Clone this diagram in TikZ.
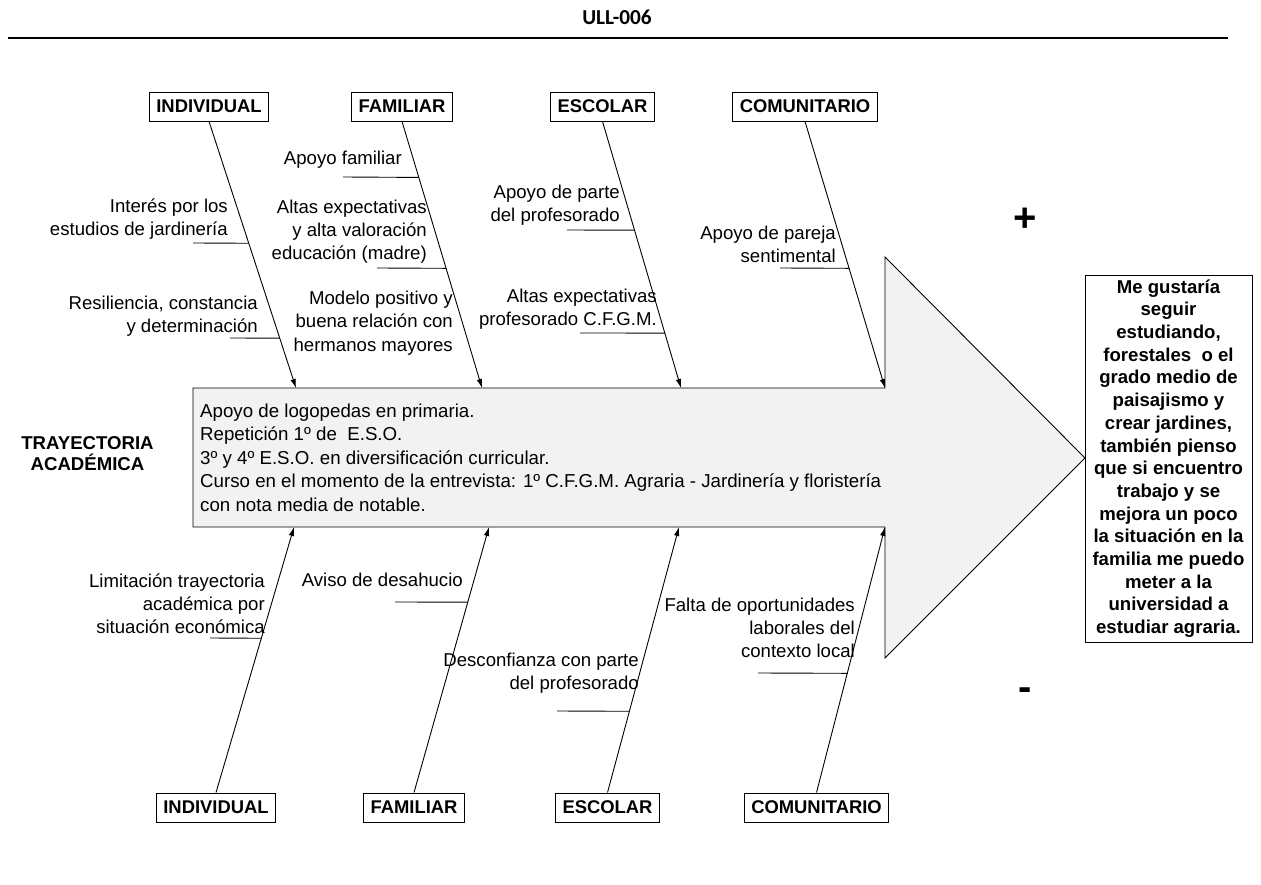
\documentclass[tikz,border=0pt]{standalone}
\usepackage{fontspec}
\setmainfont{Liberation Sans}
\newfontfamily\headfont{Carlito}
\usetikzlibrary{arrows.meta,calc}

\begin{document}
\begin{tikzpicture}[x=1pt,y=-1pt,
  every node/.style={inner sep=0pt},
  catbox/.style={draw, line width=0.9pt, font=\bfseries\fontsize{18.4}{22}\selectfont,
    minimum height=29pt, inner xsep=7pt},
  cause/.style={align=right, anchor=east, font=\fontsize{18.6}{23.2}\selectfont},
  bone/.style={line width=0.9pt, -{Latex[length=9pt,width=5.5pt]}},
  rib/.style={line width=0.9pt},
  sign/.style={font=\bfseries\fontsize{40}{40}\selectfont},
]
\useasboundingbox (0,0) rectangle (1261,885);

% header
\node[font=\headfont\bfseries\fontsize{21.3}{24}\selectfont] (hdr) at (617,17) {ULL-006};
\coordinate (hl) at (8,38);
\coordinate (hr) at (1228,38);
\draw[line width=2.4pt] (hl) -- (hr);

% fish body: block arrow
\coordinate (bodyNW) at (193,388);
\coordinate (bodyNE) at (885,388);
\coordinate (headN)  at (885,257);
\coordinate (tip)    at (1085,458);
\coordinate (headS)  at (885,658);
\coordinate (bodySE) at (885,527);
\coordinate (bodySW) at (193,527);
\draw[line width=0.9pt, fill=black!5] (bodyNW) -- (bodyNE) -- (headN) -- (tip)
  -- (headS) -- (bodySE) -- (bodySW) -- cycle;

\node[anchor=west, align=left, font=\fontsize{18.7}{23.5}\selectfont] (body) at (200,457.5)
  {Apoyo de logopedas en primaria.\\
   Repetición 1º de~ E.S.O.\\
   3º y 4º E.S.O. en diversificación curricular.\\
   Curso en el momento de la entrevista: 1º C.F.G.M. Agraria - Jardinería y floristería\\
   con nota media de notable.};

\node[align=center, font=\bfseries\fontsize{18.6}{21}\selectfont] (tray) at (87.5,453.5)
  {TRAYECTORIA\\ACADÉMICA};

% outcome box
\node[draw, line width=0.9pt, minimum width=167pt, minimum height=367pt, align=center,
  font=\bfseries\fontsize{18.6}{22.7}\selectfont] (goal) at (1168.5,458.5)
  {Me gustaría\\seguir\\estudiando,\\forestales~ o el\\grado medio de\\paisajismo y\\
   crear jardines,\\también pienso\\que si encuentro\\trabajo y se\\mejora un poco\\
   la situación en la\\familia me puedo\\meter a la\\universidad a\\estudiar agraria.};

\node[sign] (plus) at (1025,220) {+};
\node[sign] (minus) at (1025,694) {-};

% category boxes
\node[catbox] (ti) at (209,106.5) {INDIVIDUAL};
\node[catbox] (tf) at (402,106.5) {FAMILIAR};
\node[catbox] (te) at (602.5,106.5) {ESCOLAR};
\node[catbox] (tc) at (805,106.5) {COMUNITARIO};
\node[catbox] (bi) at (216,807.5) {INDIVIDUAL};
\node[catbox] (bf) at (414,807.5) {FAMILIAR};
\node[catbox] (be) at (607.5,807.5) {ESCOLAR};
\node[catbox] (bc) at (816.5,807.5) {COMUNITARIO};

% bone tips on the body
\coordinate (tiT) at (296,388);
\coordinate (tfT) at (482,388);
\coordinate (teT) at (681,388);
\coordinate (tcT) at (885,388);
\coordinate (biT) at (294,527);
\coordinate (bfT) at (489,527);
\coordinate (beT) at (679,527);
\coordinate (bcT) at (885,527);

\draw[bone] (ti.south) -- (tiT);
\draw[bone] (tf.south) -- (tfT);
\draw[bone] (te.south) -- (teT);
\draw[bone] (tc.south) -- (tcT);
\draw[bone] (bi.north) -- (biT);
\draw[bone] (bf.north) -- (bfT);
\draw[bone] (be.north) -- (beT);
\draw[bone] (bc.north) -- (bcT);

% ribs
\coordinate (r1) at (193,243);
\coordinate (r2) at (230,338);
\coordinate (r3) at (343,177);
\coordinate (r4) at (377,268);
\coordinate (r5) at (567,230);
\coordinate (r6) at (580,333);
\coordinate (r7) at (780,268);
\coordinate (r8) at (210,638);
\coordinate (r9) at (395,602);
\coordinate (r10) at (557,711);
\coordinate (r11) at (758,673);
\draw[rib] (r1) -- ($(ti.south)!0.457!(tiT)$);
\draw[rib] (r2) -- ($(ti.south)!0.813!(tiT)$);
\draw[rib] (r3) -- ($(tf.south)!0.210!(tfT)$);
\draw[rib] (r4) -- ($(tf.south)!0.551!(tfT)$);
\draw[rib] (r5) -- ($(te.south)!0.408!(teT)$);
\draw[rib] (r6) -- ($(te.south)!0.794!(teT)$);
\draw[rib] (r7) -- ($(tc.south)!0.551!(tcT)$);
\draw[rib] (r8) -- ($(biT)!0.419!(bi.north)$);
\draw[rib] (r9) -- ($(bfT)!0.283!(bf.north)$);
\draw[rib] (r10) -- ($(beT)!0.694!(be.north)$);
\draw[rib] (r11) -- ($(bcT)!0.551!(bc.north)$);

% causes
\node[cause] (c1) at (228,219) {Interés por los\\estudios de jardinería};
\node[cause] (c2) at (258,316) {Resiliencia, constancia\\y determinación};
\node[cause] (c3) at (402,160) {Apoyo familiar};
\node[cause] (c4) at (427,231.5) {Altas expectativas\\y alta valoración\\educación (madre)};
\node[cause] (c5) at (453,323) {Modelo positivo y\\buena relación con\\hermanos mayores};
\node[cause] (c6) at (620,205) {Apoyo de parte\\del profesorado};
\node[cause] (c7) at (657,309) {Altas expectativas\\profesorado C.F.G.M.};
\node[cause] (c8) at (836,244) {Apoyo de pareja\\sentimental};
\node[cause] (c9) at (265,604) {Limitación trayectoria\\académica por\\situación económica};
\node[cause] (c10) at (463,580) {Aviso de desahucio};
\node[cause] (c11) at (639,673.5) {Desconfianza con parte\\del profesorado};
\node[cause] (c12) at (855,628) {Falta de oportunidades\\laborales del\\contexto local};
\end{tikzpicture}
\end{document}
